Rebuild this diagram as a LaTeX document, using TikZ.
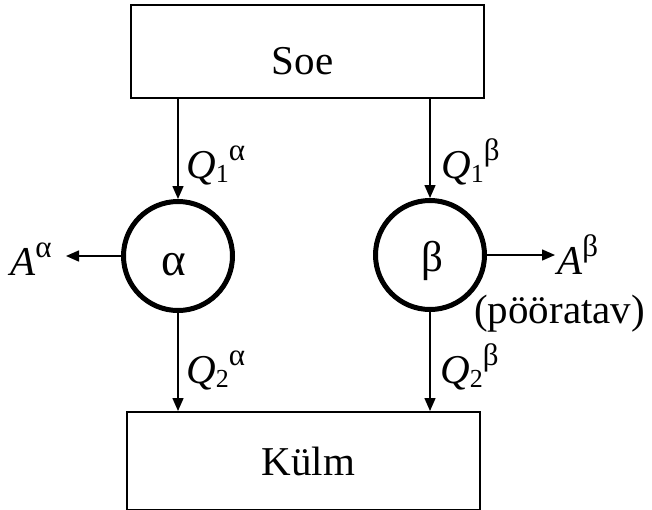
\documentclass[tikz,border=0pt]{standalone}
\usepackage{fontspec}
\setmainfont{Liberation Serif}
\usetikzlibrary{arrows.meta}
\newcommand{\supr}[1]{\raisebox{18pt}{\fontsize{31}{31}\selectfont #1}}
\newcommand{\subr}[1]{\raisebox{-4pt}{\fontsize{26}{26}\selectfont #1}}
\begin{document}
\begin{tikzpicture}[x=1pt,y=-1pt,
  box/.style={draw, line width=2pt, minimum width=353pt, minimum height=93pt, inner sep=0pt},
  eng/.style={circle, draw, line width=5pt, minimum size=109pt, inner sep=0pt},
  txt/.style={inner sep=0pt, font=\fontsize{41}{48}\selectfont},
  arr/.style={line width=1.5pt, -{Triangle[length=13pt,width=11pt]}},
]
\useasboundingbox (0,0) rectangle (652,509);
\node[box] (soe) at (307.5,51.5) {};
\node[box, minimum height=97.5pt] (kulm) at (303.5,460.75) {};
\node[txt, anchor=base] (soetxt) at (302.5,74) {Soe};
\node[txt, anchor=base] (kulmtxt) at (308.5,475) {Külm};
\node[eng] (alpha) at (178,256) {};
\node[eng] (beta) at (430,255) {};
\node[txt, anchor=base, font=\fontsize{47}{50}\selectfont] (atxt) at (174,275) {α};
\node[txt, anchor=base, font=\fontsize{43}{50}\selectfont] (btxt) at (432,271) {β};
\draw[arr] (soe.south -| alpha) -- (alpha.north);
\draw[arr] (soe.south -| beta) -- (beta.north);
\draw[arr] (alpha.south) -- (alpha |- kulm.north);
\draw[arr] (beta.south) -- (beta |- kulm.north);
\coordinate (Aaend) at (66,256);
\coordinate (Abend) at (555,255);
\draw[arr] (alpha.west) -- (Aaend);
\draw[arr] (beta.east) -- (Abend);
\node[txt, anchor=base west] (q1a) at (186,178) {\textit{Q}\subr{1}\supr{α}};
\node[txt, anchor=base west] (q1b) at (441,178) {\textit{Q}\subr{1}\supr{β}};
\node[txt, anchor=base west] (q2a) at (186,383) {\textit{Q}\subr{2}\supr{α}};
\node[txt, anchor=base west] (q2b) at (440,383) {\textit{Q}\subr{2}\supr{β}};
\node[txt, anchor=base west] (Aa) at (10,275) {\textit{A}\supr{α}};
\node[txt, anchor=base west] (Ab) at (557,274) {\textit{A}\supr{β}};
\node[txt, anchor=base west] (poor) at (474,323) {(pööratav)};
\end{tikzpicture}
\end{document}
